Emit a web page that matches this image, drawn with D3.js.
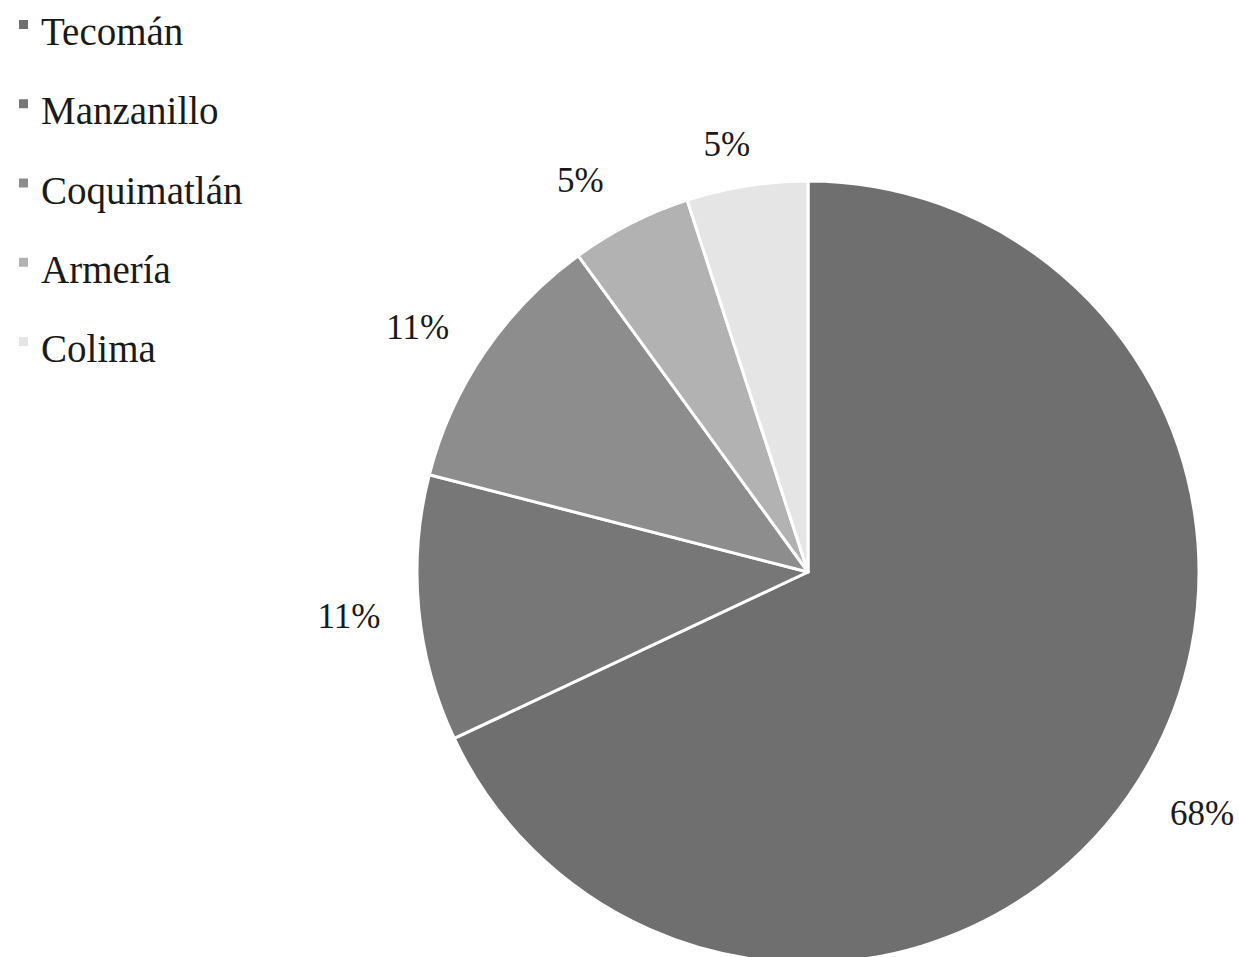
<!DOCTYPE html>
<html><head><meta charset="utf-8">
<script src="https://cdn.jsdelivr.net/npm/d3@7/dist/d3.min.js"></script>
<style>html,body{margin:0;padding:0;background:#fff;}svg{display:block;}</style>
</head><body>
<script>
const categories = ["Tecomán","Manzanillo","Coquimatlán","Armería","Colima"];
const values = [68, 11, 11, 5, 5];
const labels = ["68%","11%","11%","5%","5%"];
const colors = ["#6f6f6f","#777777","#8d8d8d","#b2b2b2","#e5e5e5"];

// layout: small nudges of each data label away from its centroid (px)
const labelNudge = [[10,-2],[-6,2],[-14,11],[-21,14],[-10,22]];

const W = 1239, H = 957;
const svg = d3.select("body").append("svg").attr("width", W).attr("height", H);
const cx = 808, cy = 572, R = 391;
const font = "'Liberation Serif','DejaVu Serif',serif";

const pie = d3.pie().sort(null).value(d => d)(values);
const arc = d3.arc().innerRadius(0).outerRadius(R);
const labelArc = d3.arc().innerRadius(455).outerRadius(455);
const color = d3.scaleOrdinal().domain(categories).range(colors);

const g = svg.append("g").attr("transform", `translate(${cx},${cy})`);
g.selectAll("path").data(pie).join("path")
  .attr("d", arc)
  .attr("fill", (d,i) => color(categories[i]))
  .attr("stroke", "#fff").attr("stroke-width", 3).attr("stroke-linejoin","round");

g.selectAll("text").data(pie).join("text")
  .attr("x", (d,i) => labelArc.centroid(d)[0] + labelNudge[i][0])
  .attr("y", (d,i) => labelArc.centroid(d)[1] + labelNudge[i][1])
  .attr("text-anchor", "middle").attr("dominant-baseline", "central")
  .attr("font-family", font).attr("font-size", 35).attr("fill", "#1a1a1a")
  .text((d,i) => labels[i]);

const legend = svg.append("g");
const ly = d3.scalePoint().domain(categories).range([45, 362]);
categories.forEach((c) => {
  legend.append("rect").attr("x", 19).attr("y", ly(c) - 25).attr("width", 9).attr("height", 9)
    .attr("fill", color(c));
  legend.append("text").attr("x", 41).attr("y", ly(c))
    .attr("font-family", font).attr("font-size", 39).attr("fill", "#1a1a1a").text(c);
});
</script>
</body></html>
